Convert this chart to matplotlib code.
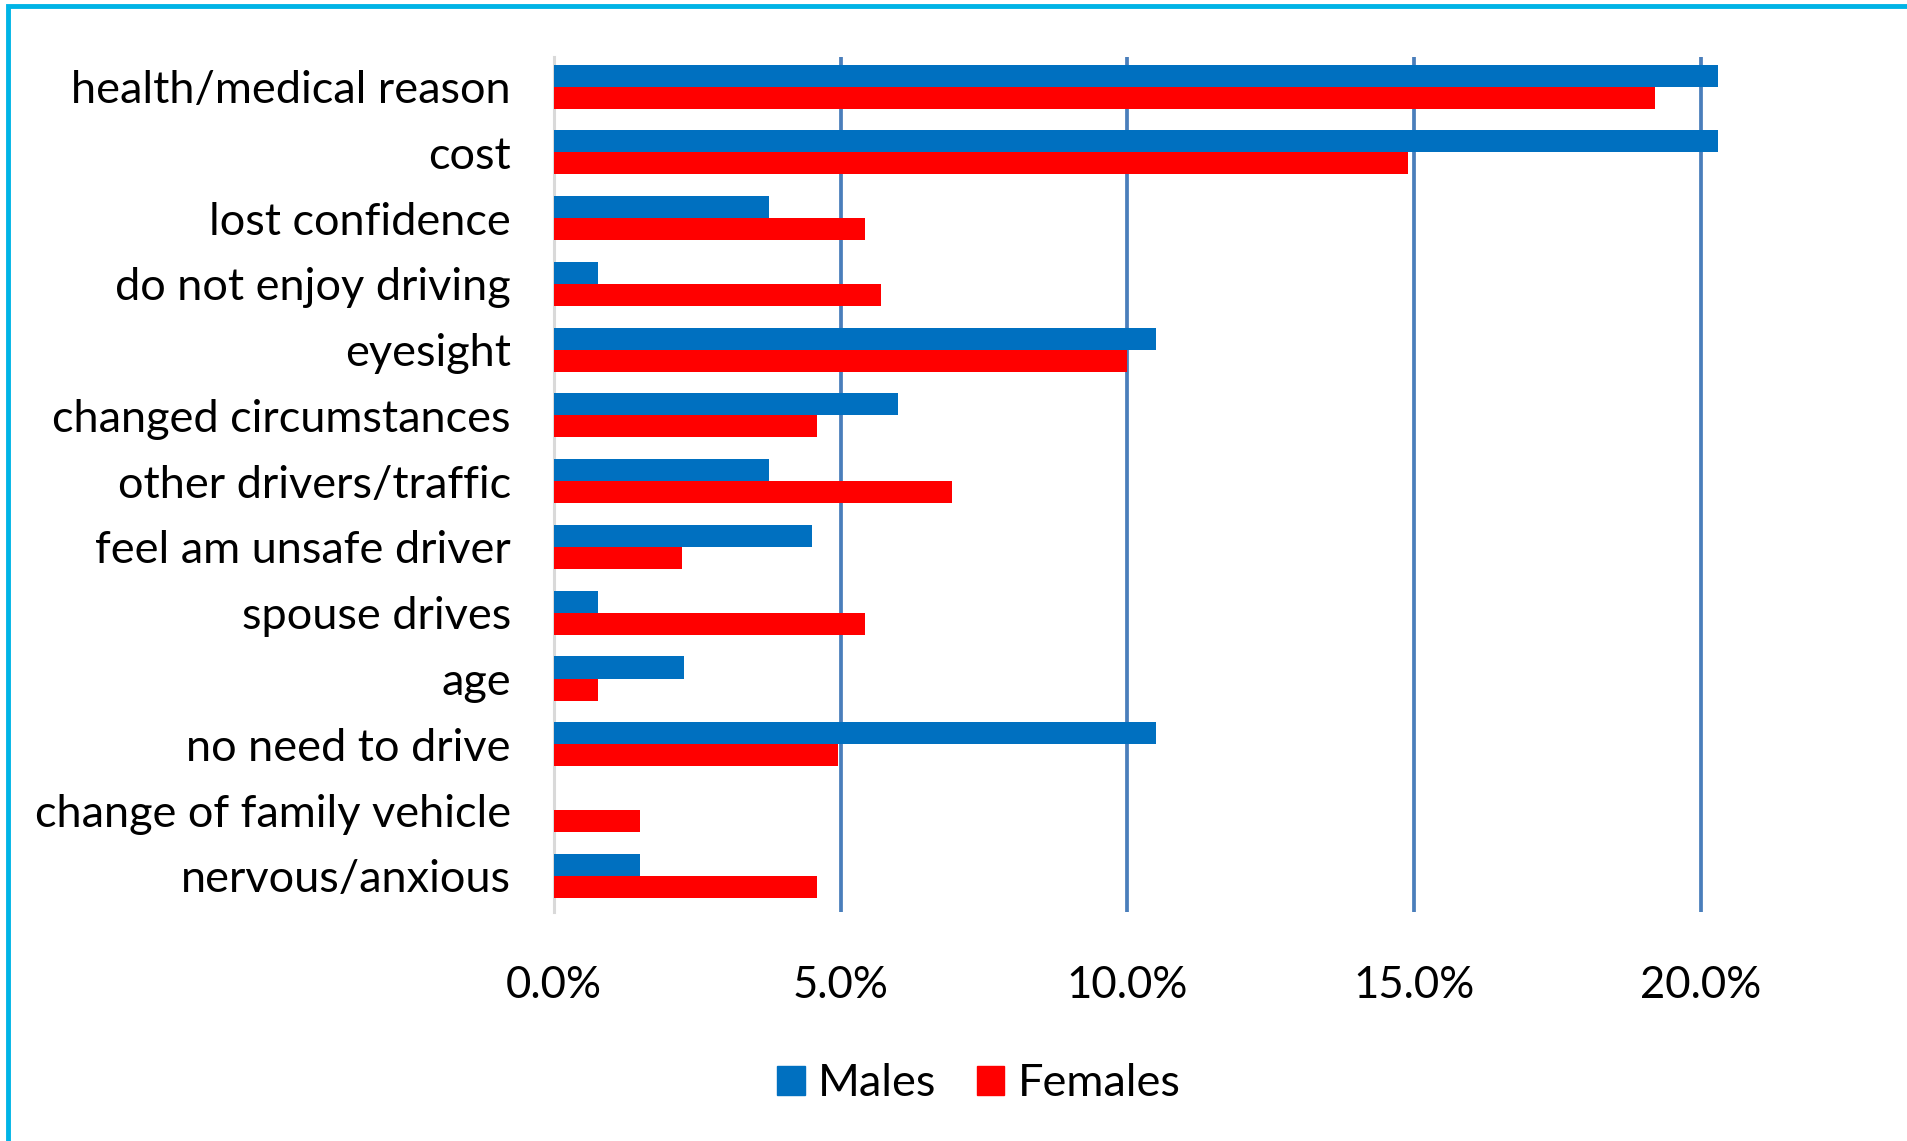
import matplotlib
matplotlib.use("Agg")
import matplotlib.pyplot as plt
from matplotlib.patches import Patch, Rectangle
from matplotlib.ticker import FuncFormatter
import numpy as np

plt.rcParams['font.family'] = ['Lato', 'DejaVu Sans']

categories = [
    "health/medical reason",
    "cost",
    "lost confidence",
    "do not enjoy driving",
    "eyesight",
    "changed circumstances",
    "other drivers/traffic",
    "feel am unsafe driver",
    "spouse drives",
    "age",
    "no need to drive",
    "change of family vehicle",
    "nervous/anxious",
]
males = [20.3, 20.3, 3.75, 0.76, 10.5, 6.0, 3.75, 4.5, 0.76, 2.26, 10.5, 0.0, 1.5]
females = [19.2, 14.9, 5.43, 5.71, 10.0, 4.59, 6.94, 2.24, 5.43, 0.76, 4.96, 1.5, 4.59]
x_ticks = [0, 5, 10, 15, 20]

W, H = 1908, 1141
fig = plt.figure(figsize=(W / 100, H / 100), dpi=100)

# axes placed in pixel terms
left, right, top, bottom = 554, 1758, 57, 912
ax = fig.add_axes([left / W, 1 - bottom / H, (right - left) / W, (bottom - top) / H])

y = np.arange(len(categories))
h = 0.335
ax.barh(y - h / 2, np.array(males) / 100, height=h, color="#0070C0", zorder=3)
ax.barh(y + h / 2, np.array(females) / 100, height=h, color="#FF0000", zorder=3)

ax.set_ylim(len(categories) - 0.45, -0.45)
ax.set_xlim(0, 0.21)
ax.set_yticks(y)
ax.set_yticklabels(categories)
ax.set_xticks([t / 100 for t in x_ticks])
ax.xaxis.set_major_formatter(FuncFormatter(lambda v, p: f"{v*100:.1f}%"))

for t in x_ticks[1:]:
    ax.axvline(t / 100, color="#4A7EBB", lw=2.7, zorder=1)

for s in ["top", "right", "bottom"]:
    ax.spines[s].set_visible(False)
ax.spines["left"].set_color("#D9D9D9")
ax.spines["left"].set_linewidth(2.2)
ax.spines["left"].set_zorder(2)

ax.tick_params(axis="y", length=0, pad=31, labelsize=32.5, labelcolor="black")
ax.tick_params(axis="x", length=0, pad=38, labelsize=31.5, labelcolor="black")

handles = [Patch(color="#0070C0", label="Males"), Patch(color="#FF0000", label="Females")]
fig.legend(handles=handles, loc="center", bbox_to_anchor=(979 / W, 1 - 1084 / H),
           ncol=2, frameon=False, fontsize=32.5, handlelength=0.6, handleheight=0.6,
           handletextpad=0.3, columnspacing=0.9)

# chart border (top and left edges)
fig.patches.append(Rectangle((8.5 / W, -0.05), 1.2, 1 - 6 / H + 0.05,
                             transform=fig.transFigure, fill=False,
                             edgecolor="#00B4E6", lw=3.5))

fig.savefig("out.png", dpi=100)
